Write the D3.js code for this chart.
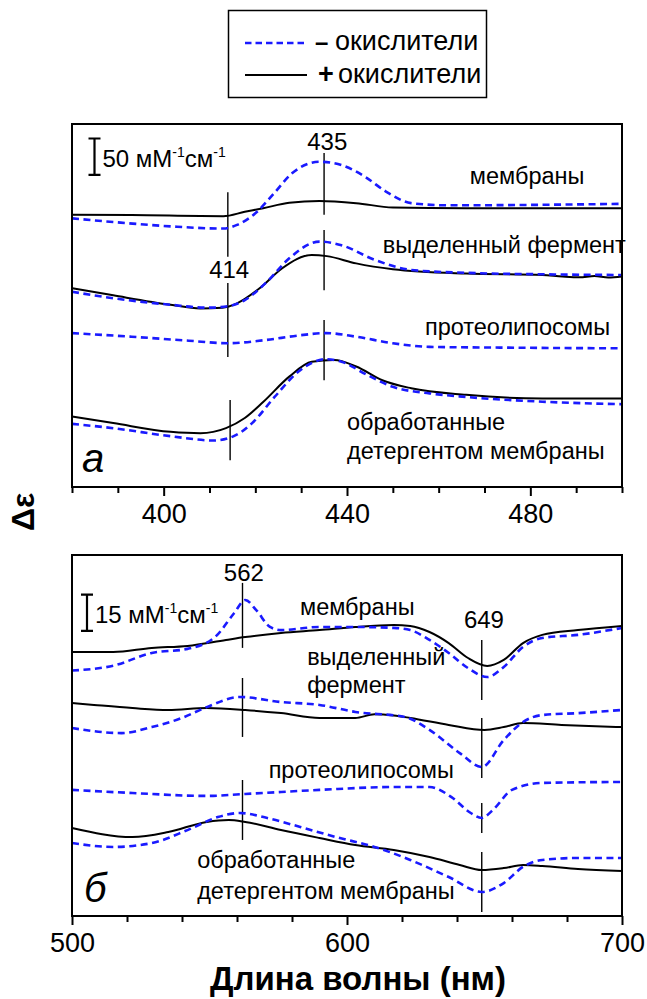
<!DOCTYPE html>
<html>
<head>
<meta charset="utf-8">
<script src="https://cdn.jsdelivr.net/npm/d3@7"></script>
<style>
body { margin: 0; background: #fff; }
text { font-family: "Liberation Sans", Arial, sans-serif; fill: #000; }
</style>
</head>
<body>
<script>
// Difference spectra, two panels: (a) Soret region, (b) visible region.
// Points are [wavelength nm, delta-eps in mM-1 cm-1], traces stacked with offsets.

//////////////////////////////////////////////////////////////////////////////
// Data, panel a

var aMembrMinus = [[380,370],[389,365],[401.5,359],[413,356],[416,361],[420,377],[424,404],[428,432],[434,448],[439,443],[444,427],[448.5,407],[454,391],[462,388],[500,390]];
var aMembrPlus  = [[380,375],[393,374.5],[413,373],[417.7,379],[421.7,384],[427.4,391.5],[434,394],[442,391],[450,385],[466,384],[500,384]];
var aEnzMinus   = [[380,269],[389,260],[401.5,251],[409.6,247],[414,249],[417.7,257.5],[422.6,283],[427.4,315],[434,338],[438.8,333],[446,313],[454,299],[466,295],[482.6,293],[500,292]];
var aEnzPlus    = [[380,274],[389,264],[401.5,251],[408,246],[412.8,247],[416,253],[421,274],[425.8,301],[432.3,319.5],[435.6,318],[442,308],[450,300],[466,294],[482.6,292],[487,290],[490.7,289],[494,290.5],[497,288.5],[500,290]];
var aLipoMinus  = [[380,212],[393,207],[405.5,201.5],[414,198],[421.7,202],[429.8,209],[435.4,212],[442,207],[450,198],[458,193],[474,192],[500,191]];
var aDetPlus    = [[380,97],[389,88],[401.5,76],[408,74],[413.6,81],[417.7,95],[421.7,117],[427.4,152],[432.3,172.5],[437.2,175],[442,166],[447.7,147],[454,136],[466,127],[482.6,122],[500,122]];
var aDetMinus   = [[380,87],[389,81],[401.5,70],[411,64],[415.3,70],[419.3,88],[424.2,124],[429.8,161],[435.4,176],[438.8,172.5],[444.5,154],[450,138],[458,129],[466,124],[482.6,117.5],[500,114]];
// marker lines [nm, top, bottom]
var aMarks = [[435,460,375],[414,406,317],[435,354,271],[414,281,179],[435,230,147],[414.5,120,37]];

//////////////////////////////////////////////////////////////////////////////
// Data, panel b

var bMembrMinus = [[500,102],[515,104],[529,109.3],[542,111],[552,115.9],[559,125.9],[563,131.3],[567,127.1],[572,120.1],[576,118.8],[590,120.1],[603,120.1],[617,119.7],[623,118.8],[630,114.7],[637,109.3],[644,103],[651,99.3],[657,103.5],[664,111.8],[671,115.5],[684,116.8],[700,119.7]];
var bMembrPlus  = [[500,109.7],[515,109.7],[529,111.4],[542,112.2],[556,114.7],[563,115.9],[576,117.6],[590,118.8],[603,120.1],[617,120.9],[623,120.5],[630,118],[637,113.4],[644,107.2],[651,103.9],[657,106.4],[664,113.4],[671,116.8],[684,118.8],[700,120.5]];
var bEnzMinus   = [[500,78.1],[518,76],[529,78.5],[540,82.3],[549,86.8],[561,91],[576,88.9],[590,87.7],[603,84.8],[621,82.7],[630,77.3],[641,67.7],[649,61.9],[657,73.1],[664,80.6],[671,83.5],[684,84.3],[700,85.6]];
var bEnzPlus    = [[500,88.5],[508,87.7],[522,86.4],[535,85.6],[549,86.4],[563,85.6],[576,84.3],[590,82.3],[603,82.3],[610,83.8],[617,83.3],[623,82.3],[637,79.4],[650,77.3],[657,78.5],[664,80.2],[678,79.4],[700,78.5]];
var bLipoMinus  = [[500,52.4],[522,51.1],[549,49.9],[563,50.7],[590,52.4],[617,53.6],[630,53.6],[638,49.4],[645,42.8],[649,40.7],[653,44],[660,52.4],[671,55.3],[700,55.7]];
var bDetPlus    = [[500,36.6],[522,32.8],[535,34.9],[549,39.1],[557,39.9],[563,39.1],[576,35.7],[590,32.4],[603,29.5],[617,27.4],[630,24.5],[641,21.2],[649,19.1],[657,19.9],[664,21.2],[671,20.8],[684,19.5],[700,18.7]];
var bDetMinus   = [[500,30.3],[515,28.7],[529,30.3],[542,35.7],[553,41.1],[561,42.8],[571,40.7],[583,37],[596,32.8],[610,28.7],[623,23.3],[637,16.2],[649,10],[657,13.7],[664,20.4],[671,23.3],[684,24.1],[700,24.1]];
var bMarks = [[562,138.4,111.4],[649,114.7,89.7],[562,98.9,74.4],[649,82.3,57.3],[649,47,34.5],[562,56.5,31.6],[649,26.6,1.7]];

// Texts
var legendLabels = ["окислители", "окислители"];
var sampleNames = ["мембраны", "выделенный фермент", "протеолипосомы", "обработанные", "детергентом мембраны"];
var aTickLabels = [400, 440, 480];
var bTickLabels = [500, 600, 700];
var xTitle = "Длина волны (нм)";
var yTitle = "Δε";

//////////////////////////////////////////////////////////////////////////////
// Scales

var blue = "#1a1aff";
var xA = d3.scaleLinear().domain([380, 500]).range([72, 622]);
var yA = d3.scaleLinear().domain([0, 500]).range([487, 124]);
var xB = d3.scaleLinear().domain([500, 700]).range([72, 622]);
var yB = d3.scaleLinear().domain([0, 150]).range([916, 555]);

var svg = d3.select("body").append("svg")
    .attr("width", 647)
    .attr("height", 999);

function trace(x, y, pts, dashed)
{
    var line = d3.line()
        .x(function(d) { return x(d[0]); })
        .y(function(d) { return y(d[1]); })
        .curve(d3.curveMonotoneX);
    svg.append("path")
        .attr("d", line(pts))
        .attr("fill", "none")
        .attr("stroke", dashed ? blue : "#000")
        .attr("stroke-width", dashed ? 2.6 : 2)
        .attr("stroke-dasharray", dashed ? "7,4.5" : null);
}

function marks(x, y, list)
{
    svg.append("g").selectAll("line")
        .data(list)
        .enter()
        .append("line")
        .attr("x1", function(d) { return x(d[0]); })
        .attr("x2", function(d) { return x(d[0]); })
        .attr("y1", function(d) { return y(d[1]); })
        .attr("y2", function(d) { return y(d[2]); })
        .attr("stroke", "#000")
        .attr("stroke-width", 1.4);
}

function frame(x, y)
{
    svg.append("rect")
        .attr("x", x.range()[0])
        .attr("y", y.range()[1])
        .attr("width", x.range()[1] - x.range()[0])
        .attr("height", y.range()[0] - y.range()[1])
        .attr("fill", "none")
        .attr("stroke", "#000")
        .attr("stroke-width", 2);
}

function axis(x, y, majors, minorStep)
{
    var dom = x.domain();
    var minors = d3.range(dom[0], dom[1] + 0.01, minorStep).filter(function(v) { return majors.indexOf(v) < 0; });
    var gMinor = svg.append("g")
        .attr("transform", "translate(0," + y.range()[0] + ")")
        .call(d3.axisBottom(x).tickValues(minors).tickSize(6).tickSizeOuter(0).tickFormat(""));
    var gMajor = svg.append("g")
        .attr("transform", "translate(0," + y.range()[0] + ")")
        .call(d3.axisBottom(x).tickValues(majors).tickSize(9).tickSizeOuter(0));
    [gMinor, gMajor].forEach(function(g) {
        g.select(".domain").remove();
        g.selectAll("line").attr("stroke", "#000").attr("stroke-width", 2);
    });
    gMajor.selectAll("text")
        .attr("y", 17)
        .attr("font-size", 27)
        .attr("font-family", "Liberation Sans, Arial, sans-serif")
        .attr("fill", "#000");
}

function label(txt, px, py, size, anchor)
{
    return svg.append("text")
        .attr("x", px)
        .attr("y", py)
        .attr("font-size", size)
        .attr("text-anchor", anchor || "start")
        .text(txt);
}

function scaleBar(px, yTop, yBot, amount)
{
    svg.append("path")
        .attr("d", "M" + (px - 6) + "," + yTop + "H" + (px + 6) + "M" + px + "," + yTop + "V" + yBot + "M" + (px - 6) + "," + yBot + "H" + (px + 6))
        .attr("fill", "none")
        .attr("stroke", "#000")
        .attr("stroke-width", 2.2);
    var t = svg.append("text")
        .attr("x", px + 8)
        .attr("y", (yTop + yBot) / 2 + 10)
        .attr("font-size", 24);
    t.append("tspan").text(amount + " мМ");
    t.append("tspan").attr("font-size", 14).attr("dy", -10).text("-1");
    t.append("tspan").attr("dy", 10).text("см");
    t.append("tspan").attr("font-size", 14).attr("dy", -10).text("-1");
}

//////////////////////////////////////////////////////////////////////////////
// Legend

svg.append("rect")
    .attr("x", 228.5).attr("y", 10.5).attr("width", 258).attr("height", 87)
    .attr("fill", "none").attr("stroke", "#000").attr("stroke-width", 1.5);
svg.append("line").attr("x1", 245).attr("x2", 305).attr("y1", 43).attr("y2", 43)
    .attr("stroke", blue).attr("stroke-width", 2.6).attr("stroke-dasharray", "6.5,4");
svg.append("line").attr("x1", 245).attr("x2", 307).attr("y1", 75).attr("y2", 75)
    .attr("stroke", "#000").attr("stroke-width", 2);
label("–", 315, 50, 24).attr("font-weight", "bold");
label(legendLabels[0], 335, 50, 27);
label("+", 318, 83, 27).attr("font-weight", "bold");
label(legendLabels[1], 338, 83, 27);

//////////////////////////////////////////////////////////////////////////////
// Panel a

marks(xA, yA, aMarks);
trace(xA, yA, aMembrPlus, false);
trace(xA, yA, aMembrMinus, true);
trace(xA, yA, aEnzPlus, false);
trace(xA, yA, aEnzMinus, true);
trace(xA, yA, aLipoMinus, true);
trace(xA, yA, aDetPlus, false);
trace(xA, yA, aDetMinus, true);
frame(xA, yA);
axis(xA, yA, aTickLabels, 10);

scaleBar(94.5, yA(480), yA(430), 50);
label("435", xA(435.7), yA(464), 24, "middle");
label("414", xA(414.3), yA(288), 24, "middle");
label(sampleNames[0], xA(466.8), yA(417), 23.5);
label(sampleNames[1], xA(447.8), yA(322), 23.5);
label(sampleNames[2], xA(457), yA(209), 23.5);
label(sampleNames[3], xA(440), yA(78), 23.5);
label(sampleNames[4], xA(440), yA(39), 23.5);
label("а", 82, 472, 40).attr("font-style", "italic");

//////////////////////////////////////////////////////////////////////////////
// Panel b

marks(xB, yB, bMarks);
trace(xB, yB, bMembrPlus, false);
trace(xB, yB, bMembrMinus, true);
trace(xB, yB, bEnzPlus, false);
trace(xB, yB, bEnzMinus, true);
trace(xB, yB, bLipoMinus, true);
trace(xB, yB, bDetPlus, false);
trace(xB, yB, bDetMinus, true);
frame(xB, yB);
axis(xB, yB, bTickLabels, 20);

scaleBar(87, yB(133.5), yB(118.5), 15);
label("562", xB(562.5), yB(139.2), 24, "middle");
label("649", xB(649.8), yB(119.7), 24, "middle");
label(sampleNames[0], xB(582.9), yB(125.1), 23.5);
label("выделенный", xB(585.5), yB(104.3), 23.5);
label("фермент", xB(585.5), yB(92.7), 23.5);
label(sampleNames[2], xB(571.5), yB(57.3), 23.5);
label(sampleNames[3], xB(545.5), yB(19.9), 23.5);
label(sampleNames[4], xB(545.5), yB(7.1), 23.5);
label("б", 84, 902, 40).attr("font-style", "italic");

//////////////////////////////////////////////////////////////////////////////
// Axis titles

label(xTitle, 358, 990, 33, "middle").attr("font-weight", "bold");
label(yTitle, 0, 0, 32, "middle")
    .attr("font-weight", "bold")
    .attr("transform", "translate(34,512) rotate(-90)");
</script>
</body>
</html>
